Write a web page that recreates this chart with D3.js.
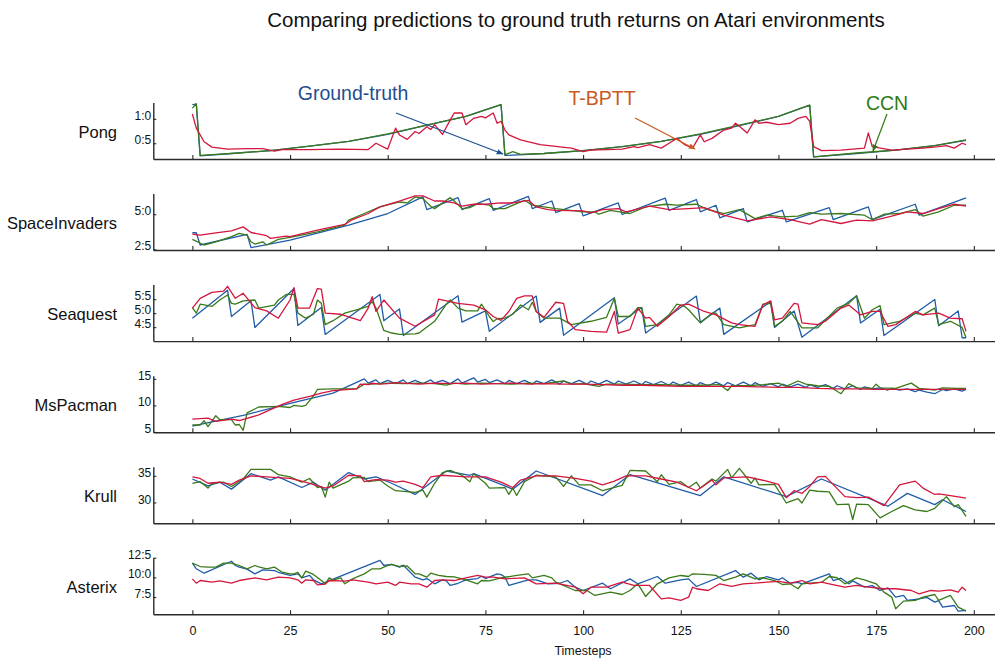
<!DOCTYPE html>
<html><head><meta charset="utf-8">
<script src="https://cdn.jsdelivr.net/npm/d3@7"></script>
<style>
body{margin:0;background:#fff}
svg{display:block}
text{font-family:"Liberation Sans",Arial,Helvetica,sans-serif}
</style>
</head><body>
<svg id="c" width="995" height="660"></svg>
<script>
// ---------- data (timestep, value) ----------
const games = ["Pong","SpaceInvaders","Seaquest","MsPacman","Krull","Asterix"];
const xTicks = [0,25,50,75,100,125,150,175,200];
const yDomains = [[0.177,1.335],[2.45,6.47],[4.0,6.02],[4.95,15.6],[26.1,36.7],[5.3,12.49]];
const yTickValues = [[0.5,1.0],[2.5,5.0],[4.5,5.0,5.5],[5,10,15],[30,35],[7.5,10,12.5]];
const yTickLabels = [["0:5","1:0"],["2:5","5:0"],["4:5","5:0","5:5"],["5","10","15"],["30","35"],["7:5","10:0","12:5"]];

const pongTruth = [[0,1.29],[1,1.30],[2,0.24],[10,0.29],[20,0.35],[30,0.44],[40,0.54],[50,0.68],[60,0.87],[70,1.05],[79,1.29],[80,0.25],[90,0.29],[100,0.35],[110,0.43],[120,0.54],[130,0.68],[140,0.86],[150,1.05],[158,1.28],[159,0.22],[170,0.29],[180,0.36],[190,0.45],[198,0.56]];
const pongTBPTT = [[0,1.10],[1,0.81],[3,0.53],[5,0.42],[9,0.38],[14,0.39],[18,0.39],[21,0.34],[23,0.37],[30,0.37],[38,0.38],[45,0.37],[47,0.50],[50,0.38],[52,0.81],[53,0.67],[55,0.58],[57,0.74],[58,0.70],[60,0.84],[61,0.78],[62,0.88],[64,0.68],[66,0.98],[67,1.12],[69,1.12],[70,0.88],[72,1.01],[74,1.05],[75,1.02],[77,1.12],[78,0.91],[79,0.95],[80,0.77],[81,0.67],[84,0.57],[89,0.47],[97,0.40],[100,0.33],[102,0.36],[110,0.38],[113,0.43],[114,0.41],[117,0.47],[120,0.40],[122,0.50],[124,0.60],[126,0.47],[128,0.40],[130,0.67],[131,0.53],[133,0.60],[136,0.77],[138,0.81],[139,0.91],[140,0.85],[142,0.71],[144,0.98],[145,0.91],[147,0.93],[150,0.88],[153,0.91],[155,1.01],[157,1.05],[158,0.95],[159,0.43],[161,0.35],[166,0.36],[172,0.40],[173,0.71],[174,0.43],[179,0.36],[187,0.40],[191,0.43],[193,0.45],[195,0.40],[197,0.50],[198,0.47]];
const pongCCN = [[0,1.22],[1,1.31],[2,0.25],[10,0.29],[20,0.35],[30,0.44],[40,0.54],[50,0.69],[60,0.87],[70,1.05],[79,1.29],[80,0.26],[82,0.33],[84,0.27],[90,0.29],[100,0.35],[110,0.43],[120,0.54],[130,0.69],[140,0.87],[150,1.05],[158,1.28],[159,0.22],[170,0.30],[180,0.36],[190,0.45],[198,0.57]];

const spaceTruth = [[0,3.68],[1,3.68],[2,2.81],[14,3.56],[15,2.62],[25,3.16],[40,4.22],[50,5.05],[59,6.23],[60,5.33],[68,6.18],[69,5.33],[76,6.11],[77,5.28],[86,6.27],[87,5.40],[92,5.94],[93,5.12],[99,5.75],[100,4.88],[109,5.80],[110,4.98],[121,6.15],[122,5.28],[129,6.04],[130,5.17],[134,5.64],[135,4.74],[141,5.40],[142,4.46],[151,5.28],[152,4.46],[163,5.47],[164,4.62],[173,5.52],[174,4.62],[185,5.71],[186,4.93],[198,6.16]];
const spaceTBPTT = [[0,3.58],[2,3.51],[6,3.68],[10,3.82],[13,4.10],[15,3.70],[19,3.47],[20,3.28],[24,3.44],[25,3.40],[32,3.87],[39,4.27],[41,4.62],[45,5.05],[48,5.52],[53,5.94],[57,6.30],[59,6.30],[62,5.94],[64,5.94],[67,5.80],[69,5.57],[72,5.71],[75,5.71],[79,5.80],[82,5.80],[86,5.99],[88,5.52],[91,5.33],[93,5.28],[100,5.24],[102,5.09],[105,5.33],[109,5.40],[111,5.17],[117,5.57],[122,5.33],[127,5.40],[131,5.47],[136,4.93],[142,4.53],[148,4.81],[153,4.62],[158,4.29],[161,4.62],[166,4.34],[170,4.58],[174,4.53],[179,4.86],[183,5.17],[187,5.05],[191,5.40],[195,5.71],[198,5.57]];
const spaceCCN = [[0,3.21],[3,2.81],[6,3.04],[10,3.40],[12,3.63],[14,3.51],[15,3.04],[16,2.88],[18,3.04],[19,2.81],[22,3.21],[25,3.35],[32,3.75],[39,4.22],[40,4.58],[44,5.05],[48,5.52],[53,5.87],[55,5.80],[57,6.23],[59,6.11],[61,5.57],[62,5.40],[66,6.18],[67,5.94],[69,5.40],[71,5.47],[73,5.75],[76,5.64],[77,5.40],[80,5.40],[85,5.99],[87,5.64],[93,5.40],[100,5.17],[103,5.17],[104,5.00],[107,5.28],[112,5.05],[116,5.52],[121,5.71],[124,5.64],[129,5.71],[132,5.33],[136,5.05],[140,5.33],[144,4.69],[147,4.93],[151,4.81],[155,4.86],[158,5.12],[161,5.00],[166,5.05],[172,4.93],[174,4.62],[177,5.00],[181,5.05],[185,5.33],[187,4.86],[191,5.17],[195,5.64],[198,5.64]];

const seaTruth = [[0,4.82],[9,5.82],[10,4.88],[15,5.44],[16,4.49],[26,5.88],[27,4.56],[33,5.20],[34,4.24],[48,5.67],[49,4.73],[53,5.15],[54,4.20],[68,5.62],[69,4.68],[75,5.08],[76,4.35],[88,5.61],[89,4.67],[94,5.18],[95,4.21],[108,5.55],[109,4.61],[115,5.20],[116,4.29],[129,5.61],[130,4.67],[135,5.18],[136,4.24],[148,5.41],[149,4.49],[154,5.08],[156,4.14],[170,5.62],[171,4.65],[176,5.14],[177,4.20],[190,5.49],[191,4.55],[196,5.08],[197,4.12],[198,4.12]];
const seaTBPTT = [[0,5.18],[2,5.53],[5,5.74],[8,5.79],[9,5.96],[11,5.53],[13,5.71],[16,5.20],[19,5.08],[22,4.82],[25,5.47],[26,5.91],[27,5.18],[30,5.18],[32,5.88],[33,5.86],[34,5.00],[38,4.96],[41,4.82],[43,4.73],[45,5.18],[46,5.59],[47,5.06],[49,5.47],[53,4.82],[57,4.53],[62,4.94],[63,5.50],[68,5.35],[72,5.29],[75,5.12],[77,4.88],[79,4.74],[81,5.06],[83,5.53],[85,5.62],[87,5.62],[88,5.06],[90,4.85],[93,5.39],[95,5.35],[96,4.71],[98,4.41],[102,4.35],[106,4.32],[108,5.06],[109,4.29],[112,4.41],[114,5.18],[116,4.82],[117,4.85],[119,4.53],[122,4.88],[125,5.29],[127,5.32],[131,5.06],[134,4.94],[138,4.65],[140,4.59],[144,4.53],[146,5.29],[148,5.44],[149,4.76],[151,4.82],[154,5.35],[155,5.32],[156,4.65],[160,4.59],[162,4.71],[166,5.18],[168,5.29],[171,4.94],[174,5.06],[176,5.06],[178,4.53],[180,4.59],[185,5.06],[187,4.94],[191,5.00],[194,4.82],[197,4.80],[198,4.35]];
const seaCCN = [[0,5.20],[1,5.00],[2,5.32],[5,5.24],[7,5.47],[9,5.65],[10,5.35],[11,5.32],[13,5.44],[16,5.47],[17,5.18],[21,5.29],[22,5.47],[24,5.67],[26,5.67],[27,5.00],[29,4.82],[31,4.96],[32,5.47],[33,5.35],[34,4.59],[36,4.73],[39,5.00],[42,5.12],[45,5.24],[46,5.41],[47,5.18],[49,4.38],[51,4.29],[53,4.24],[57,4.26],[58,4.29],[62,4.71],[65,5.32],[66,5.47],[68,5.18],[70,5.08],[73,5.08],[74,5.32],[76,4.88],[77,4.70],[78,4.80],[80,4.82],[82,4.96],[84,5.29],[86,5.12],[87,5.39],[88,5.06],[90,4.82],[94,4.82],[97,4.59],[102,4.71],[106,4.85],[108,5.53],[109,4.88],[112,4.88],[114,5.20],[115,5.20],[116,4.53],[119,4.59],[122,4.94],[124,5.32],[126,5.24],[127,5.12],[130,4.65],[133,5.00],[134,5.00],[136,4.59],[140,4.47],[144,4.59],[146,5.32],[148,5.35],[149,4.53],[151,4.71],[153,5.06],[156,4.47],[160,4.47],[165,5.18],[168,5.35],[170,5.62],[172,4.82],[174,5.12],[176,5.27],[177,4.59],[181,4.71],[185,5.00],[187,4.94],[190,5.18],[191,4.59],[194,4.71],[197,4.49],[198,4.12]];

const pacTruth = [[0,6.1],[5,6.9],[13,8.1],[25,10.4],[36,12.3],[44,15.0],[45,14.2],[47,14.8],[48,14.1],[50,14.7],[52,14.1],[54,14.8],[55,14.1],[57,14.7],[59,14.1],[61,14.8],[62,14.2],[64,14.7],[66,14.1],[68,15.0],[69,14.2],[72,15.2],[73,14.4],[75,14.9],[76,14.3],[78,14.8],[80,14.1],[81,14.7],[83,14.1],[85,14.7],[87,14.0],[88,14.6],[90,14.1],[92,14.8],[94,14.0],[95,14.6],[97,14.1],[99,14.7],[101,14.0],[102,14.6],[104,14.0],[106,14.7],[108,14.0],[109,14.6],[111,14.0],[113,14.6],[115,13.9],[116,14.5],[118,13.9],[120,14.5],[122,13.8],[123,14.4],[125,13.8],[127,14.4],[129,13.7],[130,14.3],[132,13.7],[134,14.4],[136,13.7],[137,14.3],[139,13.7],[141,14.4],[143,13.7],[144,14.3],[146,13.6],[148,14.1],[150,13.5],[151,14.0],[153,13.5],[155,14.0],[157,13.4],[158,13.9],[160,13.4],[162,13.9],[164,13.2],[165,13.7],[167,13.1],[169,13.7],[171,13.0],[172,13.5],[174,13.1],[176,13.3],[178,12.9],[179,13.2],[181,12.9],[183,13.1],[185,12.6],[186,12.9],[188,12.5],[190,12.2],[192,13.0],[193,12.8],[195,13.1],[197,12.7],[198,13.0]];
const pacTBPTT = [[0,7.4],[4,7.6],[6,7.0],[10,7.4],[12,7.15],[17,8.2],[23,10.2],[26,11.0],[30,11.7],[33,12.3],[36,12.8],[42,13.1],[43,14.0],[45,13.9],[46,14.2],[48,14.0],[50,14.1],[52,14.3],[54,14.2],[58,14.0],[62,14.2],[66,14.1],[70,14.2],[74,14.0],[78,14.1],[82,14.2],[86,14.0],[90,14.1],[95,14.0],[100,14.0],[105,13.9],[110,13.8],[115,13.8],[120,13.7],[125,13.6],[130,13.6],[135,13.6],[140,13.6],[145,13.5],[150,13.4],[155,13.4],[160,13.2],[165,13.1],[170,13.1],[175,13.0],[180,13.0],[185,13.0],[190,13.0],[195,13.0],[198,13.0]];
const pacCCN = [[0,6.3],[2,6.3],[3,7.1],[4,6.0],[6,8.05],[7,7.3],[10,7.3],[11,6.3],[12,6.4],[13,5.3],[14,8.6],[17,9.7],[22,9.8],[25,9.6],[26,10.0],[28,9.8],[29,10.0],[31,11.8],[32,13.0],[36,13.1],[42,13.1],[44,14.0],[46,14.0],[50,14.2],[54,14.1],[58,14.2],[62,14.1],[65,13.8],[67,14.2],[70,14.0],[74,14.2],[78,14.1],[82,14.0],[86,14.2],[90,14.1],[95,14.6],[97,14.0],[100,14.1],[104,13.6],[106,14.0],[110,14.0],[115,13.9],[120,13.9],[125,13.8],[130,13.8],[135,13.9],[137,12.8],[138,13.7],[142,13.7],[146,13.9],[150,14.2],[152,13.6],[155,14.6],[157,14.0],[160,13.7],[163,13.6],[166,12.2],[168,14.1],[170,13.3],[174,13.2],[175,14.0],[176,13.3],[180,13.2],[184,14.2],[186,13.2],[190,12.9],[192,13.3],[196,13.2],[198,13.2]];

const krullTruth = [[0,34.4],[4,33.1],[7,33.8],[10,32.5],[15,35.4],[20,34.2],[22,34.8],[28,32.8],[31,33.8],[34,32.3],[40,35.6],[44,34.4],[47,34.8],[51,33.6],[57,31.5],[65,35.9],[71,35.1],[72,35.4],[79,33.4],[82,32.5],[88,35.9],[105,31.3],[112,35.2],[130,31.3],[136,34.8],[152,31.1],[161,34.4],[178,29.3],[183,31.7],[190,29.6],[192,30.5],[198,28.3]];
const krullTBPTT = [[0,34.8],[2,34.5],[4,33.6],[7,33.8],[10,33.4],[12,34.2],[15,35.0],[19,34.8],[25,34.5],[28,34.0],[30,33.6],[34,32.7],[36,33.1],[40,35.1],[43,35.0],[44,33.9],[46,34.2],[47,34.3],[50,34.2],[52,33.8],[54,34.0],[57,33.4],[59,32.8],[61,34.8],[64,35.1],[70,34.8],[75,34.8],[79,33.8],[82,32.8],[84,34.2],[88,35.0],[93,35.0],[98,34.5],[102,34.0],[105,33.3],[108,34.0],[111,35.0],[116,35.0],[120,34.4],[124,33.8],[129,32.2],[133,34.2],[134,33.3],[136,34.6],[142,34.8],[147,34.0],[150,33.4],[152,30.9],[154,32.2],[156,31.7],[158,33.0],[160,34.8],[162,34.9],[167,31.1],[170,30.9],[173,31.0],[177,29.4],[181,33.3],[185,34.0],[187,32.7],[190,31.5],[191,31.6],[194,31.3],[198,30.8]];
const krullCCN = [[0,33.6],[2,33.9],[4,32.7],[5,33.6],[8,33.8],[10,33.0],[13,34.4],[15,36.2],[20,36.2],[22,35.2],[25,34.8],[28,33.8],[30,34.5],[32,32.8],[33,33.0],[34,31.0],[35,33.8],[36,32.7],[40,34.0],[41,34.6],[44,34.7],[45,33.9],[48,34.2],[50,33.1],[52,32.2],[57,31.9],[59,32.3],[60,31.0],[62,33.6],[64,35.6],[66,36.0],[69,35.1],[71,33.9],[72,35.4],[75,33.6],[76,32.7],[80,32.8],[81,31.5],[82,32.7],[83,31.3],[85,33.9],[88,35.1],[93,34.8],[95,33.0],[97,35.0],[99,33.3],[102,33.3],[105,32.2],[109,33.0],[110,33.2],[112,36.0],[116,35.9],[119,33.9],[120,35.2],[122,33.4],[125,33.9],[127,32.8],[129,33.8],[130,32.7],[133,34.4],[134,34.0],[137,36.2],[138,34.6],[140,36.4],[143,33.6],[144,34.6],[145,33.3],[149,33.4],[152,29.9],[155,30.7],[156,29.9],[158,32.3],[160,32.1],[163,32.0],[165,29.6],[168,29.7],[169,26.8],[170,29.7],[173,29.6],[176,27.1],[179,28.3],[182,29.4],[185,28.6],[188,28.3],[190,28.9],[193,31.1],[195,29.2],[196,29.6],[198,27.4]];

const astTruth = [[0,11.81],[1,11.09],[3,10.53],[10,12.05],[11,11.51],[12,11.3],[14,11.05],[16,10.45],[18,10.95],[21,10.85],[22,10.65],[25,10.24],[27,10.45],[28,9.94],[30,10.25],[31,9.69],[33,9.18],[48,12.15],[49,11.51],[51,11.64],[53,11.3],[54,11.55],[57,10.03],[59,9.69],[60,9.85],[62,9.18],[64,9.69],[65,9.55],[66,8.97],[68,9.25],[70,9.69],[73,9.85],[74,10.15],[75,9.85],[78,10.45],[79,10.35],[80,10.05],[81,8.97],[86,9.69],[88,9.69],[91,9.18],[94,9.25],[96,9.6],[98,8.75],[100,8.33],[105,9.26],[107,8.55],[112,9.81],[114,9.18],[119,10.11],[121,9.26],[125,9.69],[127,9.81],[129,8.84],[139,10.87],[141,10.03],[143,10.53],[145,9.69],[147,10.11],[150,9.69],[151,9.95],[153,9.26],[155,9.35],[156,9.18],[163,10.45],[164,9.6],[166,9.9],[168,9.18],[169,9.55],[172,8.75],[174,8.95],[176,8.33],[178,8.67],[180,7.48],[182,7.7],[183,7.06],[186,7.27],[188,7.45],[190,6.85],[191,7.05],[192,6.21],[195,6.42],[196,5.7],[198,5.79]];
const astTBPTT = [[0,9.81],[1,9.26],[2,9.6],[5,9.39],[7,9.55],[10,9.26],[12,9.6],[16,9.94],[19,9.69],[22,10.03],[25,9.94],[27,9.69],[28,9.26],[29,9.69],[31,9.6],[32,9.05],[34,9.15],[35,9.6],[39,9.52],[41,9.69],[45,9.39],[47,9.18],[50,9.39],[52,8.97],[53,9.39],[56,9.18],[58,9.18],[60,8.75],[62,9.6],[64,9.69],[67,9.6],[70,9.94],[73,10.24],[75,10.03],[77,10.03],[80,9.81],[85,9.94],[88,9.18],[93,9.26],[98,8.75],[100,7.91],[102,8.75],[106,8.75],[110,9.39],[113,8.97],[117,8.97],[120,7.27],[122,7.4],[125,7.06],[127,7.48],[128,8.75],[129,8.55],[132,8.33],[135,9.18],[138,8.84],[141,9.18],[144,9.26],[147,9.39],[150,9.5],[153,9.26],[156,9.6],[158,9.18],[161,9.39],[163,9.18],[167,8.75],[170,8.97],[173,8.75],[177,8.55],[180,8.55],[184,8.33],[186,7.91],[189,8.33],[191,8.25],[194,8.4],[196,8.12],[197,8.75],[198,8.33]];
const astCCN = [[0,11.81],[2,11.38],[4,11.3],[6,11.3],[8,11.81],[10,11.81],[12,11.51],[14,11.09],[16,11.51],[17,11.35],[19,11.09],[21,11.3],[23,10.66],[25,10.45],[26,10.45],[27,10.65],[28,9.94],[29,10.79],[31,10.37],[33,9.6],[34,9.18],[35,9.94],[36,9.65],[38,9.94],[39,9.18],[41,9.81],[44,10.45],[46,11.09],[48,11.09],[50,11.51],[51,11.64],[53,11.38],[55,11.45],[57,10.45],[58,10.45],[60,10.03],[61,10.53],[63,10.25],[65,10.11],[67,10.05],[70,9.69],[73,9.18],[74,9.6],[76,9.55],[79,9.94],[83,10.24],[86,10.45],[87,9.94],[90,10.24],[92,9.94],[93,9.39],[98,8.33],[101,8.33],[103,7.7],[107,8.12],[110,7.82],[112,8.33],[114,9.18],[116,7.57],[119,9.18],[122,9.94],[125,10.24],[127,10.11],[128,10.45],[131,10.37],[134,10.25],[136,9.6],[139,10.03],[141,10.45],[144,9.81],[146,9.95],[149,9.6],[151,9.09],[153,9.18],[155,8.55],[156,9.18],[158,9.26],[161,9.35],[163,10.11],[165,9.95],[167,9.18],[170,9.94],[172,9.69],[175,9.18],[177,8.12],[179,7.48],[180,6.0],[182,6.98],[185,7.06],[187,7.48],[190,7.82],[191,7.06],[194,7.7],[196,6.21],[198,5.7]];

const truthSeries = [pongTruth, spaceTruth, seaTruth, pacTruth, krullTruth, astTruth];
const tbpttSeries = [pongTBPTT, spaceTBPTT, seaTBPTT, pacTBPTT, krullTBPTT, astTBPTT];
const ccnSeries   = [pongCCN, spaceCCN, seaCCN, pacCCN, krullCCN, astCCN];

// ---------- drawing ----------
const svg = d3.select("#c");
const colTruth = "#1f5ca8", colTBPTT = "#d4163e", colCCN = "#3a7a1a";
const axisCol = "#2a2a2a";

const x = d3.scaleLinear().domain([-10, 210]).range([153.3, 1012.9]);
const firstBottom = 159, step = 91.06, panelH = 56.5;

svg.append("text").attr("x", 576).attr("y", 19).attr("text-anchor","middle")
  .attr("dominant-baseline","central").attr("font-size", 20.5).attr("fill","#111")
  .text("Comparing predictions to ground truth returns on Atari environments");

games.forEach((name, i) => {
  const bottom = firstBottom + i * step, top = bottom - panelH;
  const y = d3.scaleLinear().domain(yDomains[i]).range([bottom, top]);
  const g = svg.append("g");

  const xa = d3.axisBottom(x).tickValues(xTicks).tickSizeInner(-4).tickSizeOuter(0).tickPadding(12);
  if (i < games.length - 1) xa.tickFormat("");
  const gx = g.append("g").attr("transform", `translate(0,${bottom})`).call(xa);
  gx.select(".domain").attr("stroke", axisCol).attr("stroke-width", 1.4);
  gx.selectAll(".tick line").attr("stroke", axisCol).attr("stroke-width", 1.1);
  gx.selectAll(".tick text").attr("font-size", 12.5).attr("fill","#111")
    .style("font-family",'"Liberation Sans",Arial,sans-serif');

  const ya = d3.axisLeft(y).tickValues(yTickValues[i]).tickSizeInner(-3).tickSizeOuter(0).tickPadding(2)
    .tickFormat((d, k) => yTickLabels[i][k]);
  const gy = g.append("g").attr("transform", `translate(${x(-10)},0)`).call(ya);
  gy.select(".domain").attr("stroke", axisCol).attr("stroke-width", 1.4);
  gy.selectAll(".tick line").attr("stroke", axisCol).attr("stroke-width", 1.1);
  gy.selectAll(".tick text").attr("font-size", 12).attr("fill","#111").attr("dy","0.05em")
    .style("font-family",'"Liberation Sans",Arial,sans-serif');

  g.append("text").attr("x", 117).attr("y", (top + bottom) / 2 + 1)
    .attr("text-anchor","end").attr("dominant-baseline","central")
    .attr("font-size", 16.5).attr("fill","#111").text(name);

  const line = d3.line().x(d => x(d[0])).y(d => y(d[1]));
  [[truthSeries[i], colTruth], [ccnSeries[i], colCCN], [tbpttSeries[i], colTBPTT]].forEach(([data, c]) => {
    g.append("path").datum(data).attr("d", line).attr("fill","none")
      .attr("stroke", c).attr("stroke-width", 1.3).attr("stroke-linejoin","round");
  });
});

svg.append("text").attr("x", 583).attr("y", 651).attr("text-anchor","middle")
  .attr("dominant-baseline","central").attr("font-size", 12.5).attr("fill","#111").text("Timesteps");

// ---------- annotations ----------
const defs = svg.append("defs");
function marker(id, col) {
  defs.append("marker").attr("id", id).attr("viewBox","0 0 10 10").attr("refX", 9).attr("refY", 5)
    .attr("markerWidth", 7).attr("markerHeight", 7).attr("markerUnits","userSpaceOnUse").attr("orient","auto")
    .append("path").attr("d","M0,1L10,5L0,9z").attr("fill", col);
}
const annots = [
  {label:"Ground-truth", col:"#1f4f91", tx:353, ty:93, from:[396,113], to:[503,154]},
  {label:"T-BPTT", col:"#c95a1e", tx:602, ty:98, from:[635,118], to:[695,149]},
  {label:"CCN", col:"#2f7a12", tx:887, ty:103, from:[887,114], to:[873,151]}
];
annots.forEach((a, k) => {
  marker("m" + k, a.col);
  svg.append("text").attr("x", a.tx).attr("y", a.ty).attr("text-anchor","middle")
    .attr("dominant-baseline","central").attr("font-size", 19.5).attr("fill", a.col).text(a.label);
  svg.append("line").attr("x1", a.from[0]).attr("y1", a.from[1]).attr("x2", a.to[0]).attr("y2", a.to[1])
    .attr("stroke", a.col).attr("stroke-width", 1.2).attr("marker-end", `url(#m${k})`);
});
</script>
</body></html>
